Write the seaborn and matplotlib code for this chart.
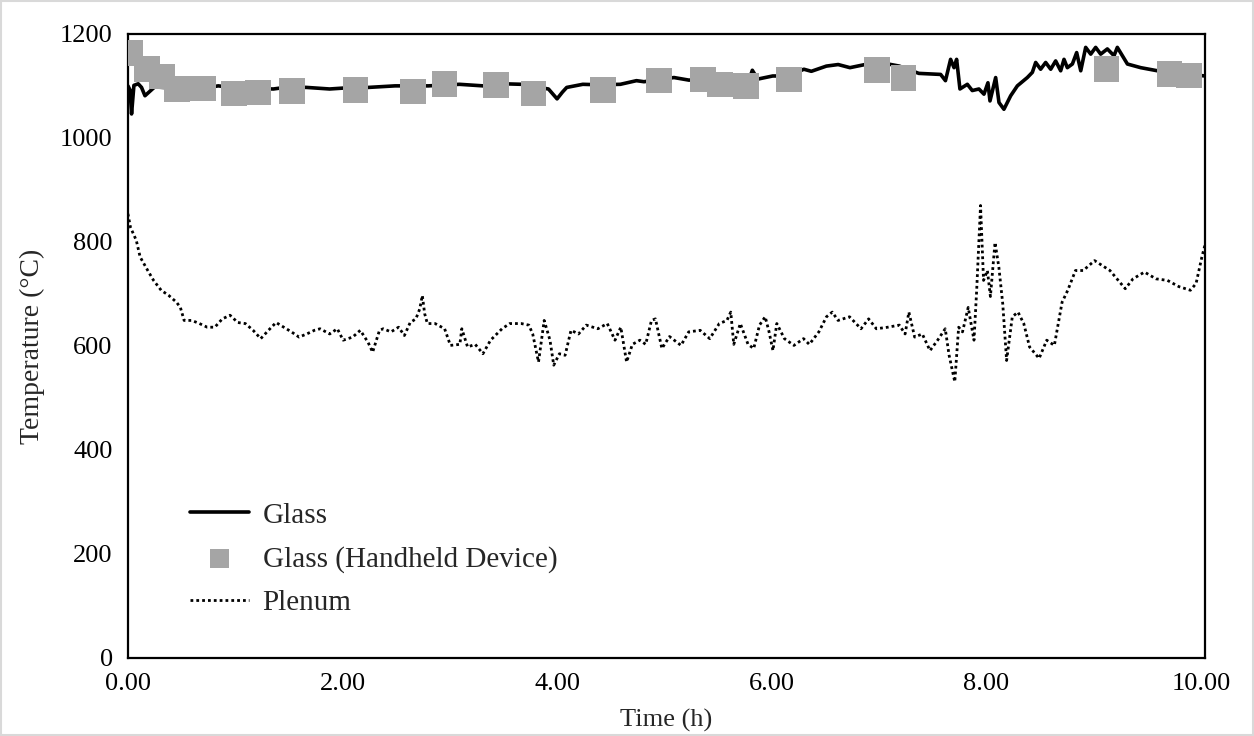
import numpy as np
import pandas as pd
import matplotlib
matplotlib.use("Agg")
import matplotlib.pyplot as plt
import seaborn as sns
from matplotlib.patches import Rectangle
from matplotlib.ticker import MultipleLocator

# Glass temperature (thermocouple)
glass_t = [0.0, 0.02, 0.034, 0.056, 0.096, 0.127, 0.159, 0.25, 0.4, 0.578,
           0.7, 0.842, 1.0, 1.15, 1.356, 1.5, 1.667, 1.88, 2.1, 2.24,
           2.49, 2.8, 3.09, 3.31, 3.5, 3.67, 3.8, 3.92, 4.0, 4.05,
           4.09, 4.24, 4.4, 4.59, 4.74, 4.81, 4.95, 5.09, 5.23, 5.31,
           5.44, 5.6, 5.73, 5.8, 5.82, 5.87, 6.01, 6.16, 6.3, 6.37,
           6.51, 6.62, 6.73, 6.87, 7.01, 7.19, 7.372, 7.575, 7.62, 7.668,
           7.7, 7.724, 7.755, 7.824, 7.87, 7.932, 7.979, 8.016, 8.035, 8.088,
           8.119, 8.165, 8.228, 8.29, 8.383, 8.43, 8.461, 8.507, 8.554, 8.601,
           8.647, 8.694, 8.725, 8.756, 8.803, 8.843, 8.881, 8.927, 8.974, 9.02,
           9.067, 9.129, 9.191, 9.222, 9.269, 9.316, 9.44, 9.596, 9.8, 10.04]
glass_v = [1100, 1092, 1046, 1101, 1104, 1097, 1081, 1098, 1096, 1102,
           1095, 1100, 1096, 1095, 1094, 1098, 1097, 1094, 1097, 1097,
           1100, 1100, 1103, 1100, 1104, 1103, 1098, 1094, 1075, 1088,
           1097, 1103, 1102, 1103, 1110, 1108, 1112, 1116, 1111, 1113,
           1113, 1112, 1113, 1118, 1130, 1113, 1119, 1119, 1132, 1128,
           1138, 1141, 1135, 1141, 1145, 1138, 1124, 1122, 1110, 1151,
           1135, 1151, 1094, 1103, 1091, 1094, 1084, 1106, 1071, 1116,
           1068, 1055, 1081, 1100, 1116, 1126, 1145, 1132, 1145, 1132,
           1148, 1129, 1151, 1135, 1142, 1164, 1129, 1174, 1161, 1174,
           1161, 1171, 1158, 1174, 1158, 1142, 1135, 1129, 1124, 1119]

# Handheld device readings
hand_t = [0.02, 0.18, 0.32, 0.46, 0.70, 0.99, 1.21, 1.53, 2.12, 2.66,
          2.95, 3.43, 3.78, 4.43, 4.95, 5.36, 5.52, 5.76, 6.16, 6.98,
          7.23, 9.12, 9.71, 9.89]
hand_v = [1163, 1132, 1118, 1094, 1095, 1085, 1087, 1090, 1092, 1089,
          1104, 1102, 1085, 1092, 1110, 1112, 1103, 1100, 1112, 1130,
          1115, 1133, 1123, 1120]

# Plenum temperature
plenum_t = [0.0, 0.024, 0.078, 0.114, 0.185, 0.239, 0.31, 0.381, 0.453, 0.489,
            0.524, 0.595, 0.667, 0.739, 0.81, 0.88, 0.952, 1.024, 1.095, 1.167,
            1.238, 1.31, 1.381, 1.452, 1.524, 1.595, 1.667, 1.738, 1.791, 1.881,
            1.952, 2.006, 2.095, 2.166, 2.238, 2.281, 2.345, 2.38, 2.452, 2.523,
            2.577, 2.631, 2.684, 2.72, 2.744, 2.766, 2.791, 2.863, 2.952, 3.006,
            3.094, 3.112, 3.166, 3.237, 3.309, 3.38, 3.487, 3.559, 3.666, 3.737,
            3.773, 3.827, 3.88, 3.934, 3.969, 4.022, 4.075, 4.13, 4.2, 4.272,
            4.38, 4.468, 4.54, 4.594, 4.648, 4.702, 4.772, 4.826, 4.88, 4.917,
            4.977, 5.048, 5.155, 5.227, 5.334, 5.423, 5.512, 5.583, 5.619, 5.647,
            5.708, 5.78, 5.833, 5.887, 5.94, 5.976, 6.012, 6.048, 6.119, 6.208,
            6.297, 6.351, 6.44, 6.511, 6.565, 6.619, 6.726, 6.833, 6.904, 6.976,
            7.083, 7.19, 7.244, 7.279, 7.333, 7.404, 7.476, 7.547, 7.618, 7.654,
            7.707, 7.743, 7.779, 7.832, 7.886, 7.911, 7.947, 7.975, 8.011, 8.039,
            8.082, 8.118, 8.154, 8.19, 8.243, 8.296, 8.35, 8.404, 8.493, 8.564,
            8.635, 8.707, 8.76, 8.832, 8.904, 9.01, 9.153, 9.296, 9.368, 9.475,
            9.582, 9.689, 9.796, 9.903, 9.956, 10.01, 10.04]
plenum_v = [854, 828, 803, 771, 745, 726, 707, 697, 684, 674,
            649, 649, 643, 636, 636, 652, 659, 645, 643, 630,
            614, 630, 645, 636, 627, 617, 623, 630, 633, 623,
            633, 611, 617, 630, 607, 588, 630, 633, 627, 636,
            620, 645, 652, 671, 697, 662, 643, 643, 633, 601,
            603, 633, 598, 603, 585, 611, 633, 643, 643, 640,
            623, 569, 649, 611, 563, 585, 582, 630, 623, 640,
            633, 643, 611, 636, 569, 603, 611, 603, 649, 652,
            595, 618, 601, 627, 630, 614, 643, 649, 665, 603,
            643, 603, 595, 640, 656, 627, 591, 643, 614, 601,
            614, 603, 627, 656, 665, 649, 656, 633, 652, 633,
            636, 640, 623, 665, 617, 623, 591, 611, 633, 582,
            531, 636, 627, 674, 611, 707, 870, 726, 745, 695,
            799, 751, 681, 572, 656, 665, 643, 598, 576, 611,
            601, 684, 707, 745, 745, 764, 745, 710, 729, 742,
            729, 726, 714, 707, 720, 771, 795]

glass = pd.DataFrame({"t": glass_t, "T": glass_v})
hand = pd.DataFrame({"t": hand_t, "T": hand_v})
plenum = pd.DataFrame({"t": plenum_t, "T": plenum_v})

sns.set_style("white")
plt.rcParams["font.family"] = ["Liberation Serif", "DejaVu Serif"]
plt.rcParams["font.size"] = 19

fig, ax = plt.subplots(figsize=(12.54, 7.36), dpi=100)
fig.subplots_adjust(left=0.102, right=0.961, bottom=0.106, top=0.954)

sns.lineplot(data=glass, x="t", y="T", ax=ax, color="black", lw=2.6,
             label="Glass", estimator=None, sort=False)
sns.scatterplot(data=hand, x="t", y="T", ax=ax, marker="s", s=340,
                color="#a5a5a5", edgecolor="none", label="Glass (Handheld Device)",
                zorder=3)
sns.lineplot(data=plenum, x="t", y="T", ax=ax, color="black", lw=2.0,
             linestyle=(0, (1, 1.1)), label="Plenum", estimator=None, sort=False)

ax.set_xlim(0, 10.04)
ax.set_ylim(0, 1200)
ax.xaxis.set_major_locator(MultipleLocator(2))
ax.xaxis.set_minor_locator(MultipleLocator(1))
ax.yaxis.set_major_locator(MultipleLocator(200))
ax.yaxis.set_minor_locator(MultipleLocator(100))
ax.xaxis.set_major_formatter(plt.FuncFormatter(lambda v, p: f"{v:.2f}"))
ax.tick_params(which="both", direction="out", width=1.5, colors="black",
               labelsize=19, pad=4)
ax.tick_params(which="major", length=7)
ax.tick_params(which="minor", length=5)
for sp in ax.spines.values():
    sp.set_color("black")
    sp.set_linewidth(1.6)

ax.set_xlabel("Time (h)", fontsize=19, labelpad=10)
ax.set_ylabel("Temperature (°C)", fontsize=20, labelpad=11)

leg = ax.legend(loc="lower left", bbox_to_anchor=(0.033, 0.025), frameon=False,
                fontsize=21, handlelength=2.05, labelspacing=0.585,
                handletextpad=0.45, markerscale=0.76)

# light grey frame round the whole figure
fig.patches.append(Rectangle((0.001, 0.001), 0.998, 0.997, transform=fig.transFigure,
                             fill=False, edgecolor="#d9d9d9", lw=1.5))

fig.savefig("out.png", dpi=100)
